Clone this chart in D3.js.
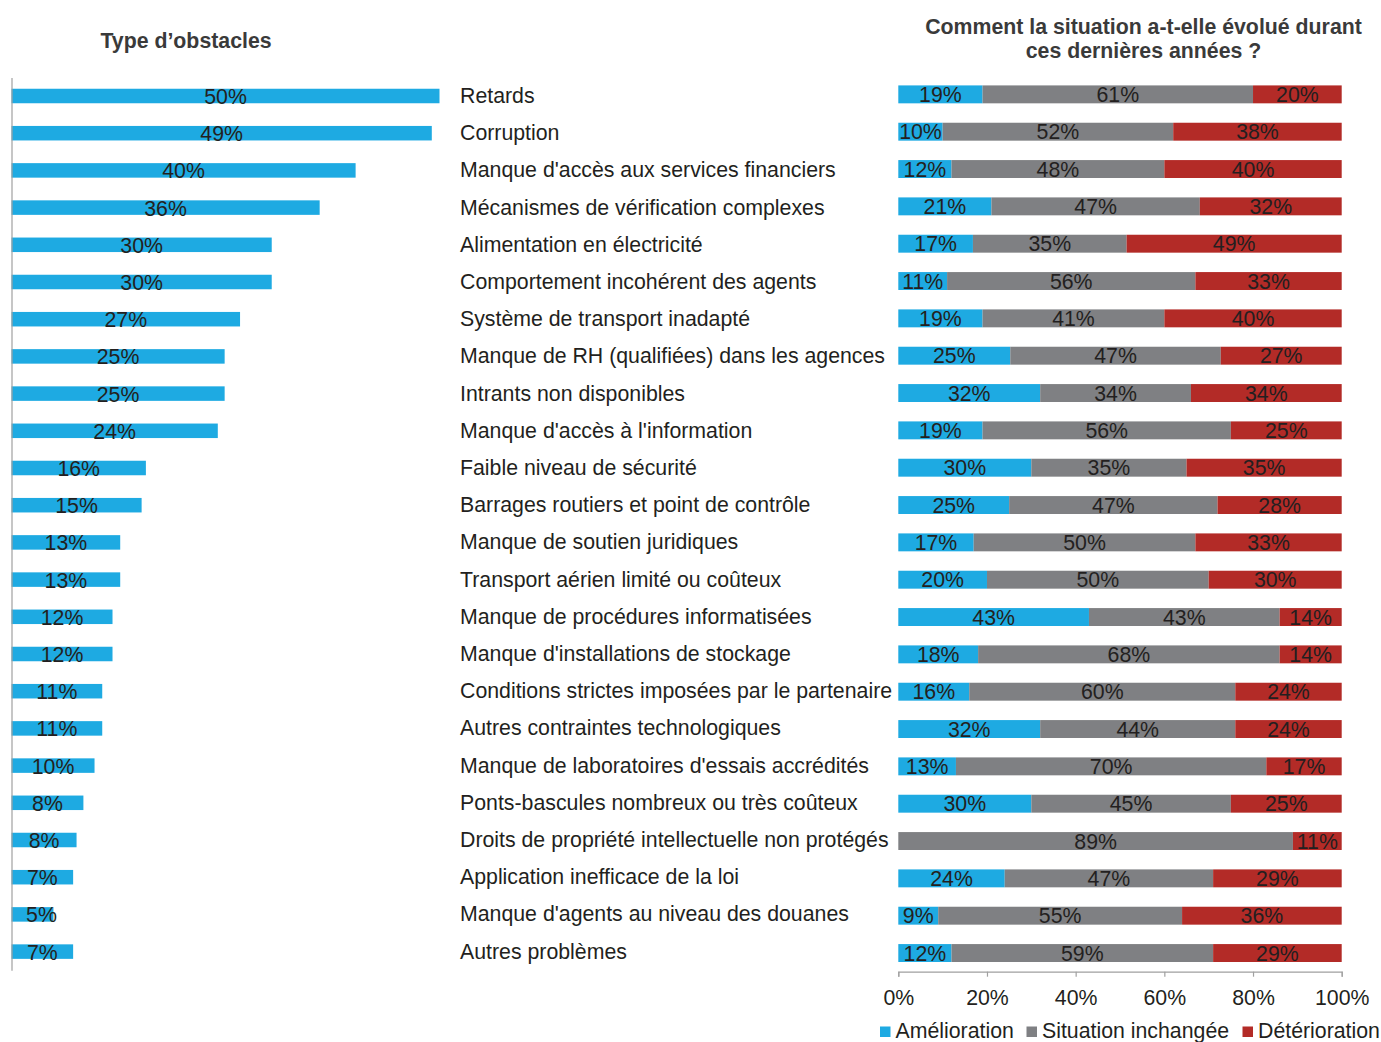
<!DOCTYPE html>
<html>
<head>
<meta charset="utf-8">
<script src="https://cdn.jsdelivr.net/npm/d3@7"></script>
<style>
  html, body { margin: 0; padding: 0; background: #ffffff; }
  svg { display: block; font-family: "Liberation Sans", Arial, Helvetica, sans-serif; }
</style>
</head>
<body>
<svg id="chart" width="1381" height="1042"></svg>
<script>
const categories = [
  "Retards",
  "Corruption",
  "Manque d'accès aux services financiers",
  "Mécanismes de vérification complexes",
  "Alimentation en électricité",
  "Comportement incohérent des agents",
  "Système de transport inadapté",
  "Manque de RH (qualifiées) dans les agences",
  "Intrants non disponibles",
  "Manque d'accès à l'information",
  "Faible niveau de sécurité",
  "Barrages routiers et point de contrôle",
  "Manque de soutien juridiques",
  "Transport aérien limité ou coûteux",
  "Manque de procédures informatisées",
  "Manque d'installations de stockage",
  "Conditions strictes imposées par le partenaire",
  "Autres contraintes technologiques",
  "Manque de laboratoires d'essais accrédités",
  "Ponts-bascules nombreux ou très coûteux",
  "Droits de propriété intellectuelle non protégés",
  "Application inefficace de la loi",
  "Manque d'agents au niveau des douanes",
  "Autres problèmes"
];

// Type d'obstacles (% of respondents)
const obstacleShare = [50.0, 49.1, 40.2, 36.0, 30.4, 30.4, 26.7, 24.9, 24.9, 24.1, 15.7, 15.2, 12.7, 12.7, 11.8, 11.8, 10.6, 10.6, 9.7, 8.4, 7.6, 7.2, 4.9, 7.2];

// Evolution over recent years (%)
const amelioration = [19, 10, 12, 21, 17, 11, 19, 25, 32, 19, 30, 25, 17, 20, 43, 18, 16, 32, 13, 30, 0, 24, 9, 12];
const inchangee    = [61, 52, 48, 47, 35, 56, 41, 47, 34, 56, 35, 47, 50, 50, 43, 68, 60, 44, 70, 45, 89, 47, 55, 59];
const deterioration= [20, 38, 40, 32, 49, 33, 40, 27, 34, 25, 35, 28, 33, 30, 14, 14, 24, 24, 17, 25, 11, 29, 36, 29];

const seriesNames = ["Amélioration", "Situation inchangée", "Détérioration"];
const seriesKeys = ["amelioration", "inchangee", "deterioration"];
const axisTicks = [0, 0.2, 0.4, 0.6, 0.8, 1];

const colors = { amelioration: "#1eaae2", inchangee: "#7f8083", deterioration: "#b32b27" };
const textColor = "#231f20";
const titleColor = "#3a3a3a";
const fontSize = 21.3;

const svg = d3.select("#chart");

// ---------- Left chart ----------
const yL = d3.scaleBand().domain(categories).range([77.4, 970.2]).paddingInner(0.61).paddingOuter(0.305);
const xL = d3.scaleLinear().domain([0, 50]).range([11.5, 439.5]);

const left = svg.append("g");
left.selectAll("rect.ob").data(categories).join("rect")
  .attr("class", "ob")
  .attr("x", xL(0))
  .attr("y", d => yL(d))
  .attr("width", (d, i) => xL(obstacleShare[i]) - xL(0))
  .attr("height", yL.bandwidth())
  .attr("fill", colors.amelioration);

left.selectAll("text.ob").data(categories).join("text")
  .attr("class", "ob")
  .attr("x", (d, i) => Math.max((xL(0) + xL(obstacleShare[i])) / 2, xL(0) + 30))
  .attr("y", d => yL(d) + yL.bandwidth() / 2 + 8)
  .attr("text-anchor", "middle")
  .attr("font-size", fontSize)
  .attr("fill", textColor)
  .text((d, i) => Math.round(obstacleShare[i]) + "%");

const axL = left.append("g")
  .attr("transform", `translate(${xL(0)},0)`)
  .call(d3.axisLeft(yL).tickSize(0).tickSizeOuter(0).tickFormat(""));
axL.select(".domain").attr("stroke", "#a0a0a0").attr("stroke-width", 1.2);

left.append("text")
  .attr("x", 186).attr("y", 48)
  .attr("text-anchor", "middle")
  .attr("font-size", fontSize).attr("font-weight", "bold")
  .attr("fill", titleColor)
  .text("Type d’obstacles");

// ---------- Category labels ----------
svg.append("g").selectAll("text").data(categories).join("text")
  .attr("x", 460)
  .attr("y", d => yL(d) + yL.bandwidth() / 2 + 7)
  .attr("font-size", fontSize)
  .attr("fill", textColor)
  .text(d => d);

// ---------- Right chart ----------
const rows = categories.map((c, i) => ({
  cat: c,
  amelioration: amelioration[i],
  inchangee: inchangee[i],
  deterioration: deterioration[i]
}));
const stacked = d3.stack().keys(seriesKeys).offset(d3.stackOffsetExpand)(rows);

const yR = d3.scaleBand().domain(categories).range([75.7, 971.7]).paddingInner(0.52).paddingOuter(0.26);
const xR = d3.scaleLinear().domain([0, 1]).range([898.3, 1341.7]);

const right = svg.append("g");
const layers = right.selectAll("g.layer").data(stacked).join("g")
  .attr("class", "layer")
  .attr("fill", d => colors[d.key]);

layers.selectAll("rect").data(d => d.map(p => ({ p, key: d.key }))).join("rect")
  .attr("x", d => xR(d.p[0]))
  .attr("y", d => yR(d.p.data.cat))
  .attr("width", d => xR(d.p[1]) - xR(d.p[0]))
  .attr("height", yR.bandwidth());

layers.selectAll("text").data(d => d.map(p => ({ p, key: d.key })).filter(o => o.p.data[o.key] > 0)).join("text")
  .attr("x", d => (xR(d.p[0]) + xR(d.p[1])) / 2)
  .attr("y", d => yR(d.p.data.cat) + yR.bandwidth() / 2 + 7.5)
  .attr("text-anchor", "middle")
  .attr("font-size", fontSize)
  .attr("fill", textColor)
  .text(d => d.p.data[d.key] + "%");

const axR = right.append("g")
  .attr("transform", "translate(0,971.7)")
  .call(d3.axisBottom(xR).tickValues(axisTicks).tickFormat(d3.format(".0%")).tickSize(5).tickSizeOuter(5).tickPadding(13));
axR.select(".domain").attr("stroke", "#a0a0a0").attr("stroke-width", 1.2);
axR.selectAll(".tick line").attr("stroke", "#a0a0a0").attr("stroke-width", 1.2);
axR.selectAll(".tick text")
  .attr("font-size", fontSize)
  .attr("font-family", "\"Liberation Sans\", Arial, sans-serif")
  .attr("fill", textColor);

const titleR = right.append("text")
  .attr("text-anchor", "middle")
  .attr("font-size", fontSize).attr("font-weight", "bold")
  .attr("fill", titleColor);
titleR.append("tspan").attr("x", 1143.5).attr("y", 33.5).text("Comment la situation a-t-elle évolué durant");
titleR.append("tspan").attr("x", 1143.5).attr("y", 57.5).text("ces dernières années ?");

// ---------- Legend ----------
const legendX = [880, 1026.5, 1242.5];
const legend = svg.append("g").selectAll("g").data(seriesKeys).join("g")
  .attr("transform", (d, i) => `translate(${legendX[i]},0)`);
legend.append("rect")
  .attr("x", 0).attr("y", 1026.5).attr("width", 10.5).attr("height", 10.5)
  .attr("fill", d => colors[d]);
legend.append("text")
  .attr("x", 15.5).attr("y", 1037.5)
  .attr("font-size", fontSize)
  .attr("fill", textColor)
  .text((d, i) => seriesNames[i]);
</script>
</body>
</html>
